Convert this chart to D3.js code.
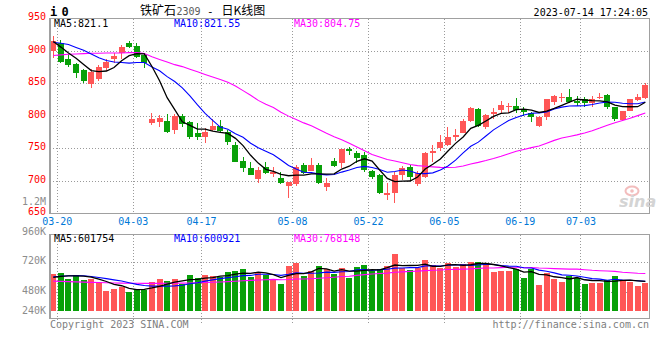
<!DOCTYPE html>
<html><head><meta charset="utf-8">
<script src="https://cdn.jsdelivr.net/npm/d3@7"></script>
<style>
body{margin:0;background:#fff;}
svg{display:block;font-family:"DejaVu Sans Mono",monospace;}
</style></head><body>
<svg id="c" width="660" height="360"></svg>
<script>
// ---------- data ----------
const dates = ["03-20","03-21","03-22","03-23","03-24","03-27","03-28","03-29","03-30","03-31",
"04-03","04-04","04-06","04-07","04-10","04-11","04-12","04-13","04-14","04-17","04-18","04-19","04-20","04-21",
"04-24","04-25","04-26","04-27","04-28","05-04","05-05","05-08","05-09","05-10","05-11","05-12",
"05-15","05-16","05-17","05-18","05-19","05-22","05-23","05-24","05-25","05-26","05-29","05-30","05-31","06-01","06-02",
"06-05","06-06","06-07","06-08","06-09","06-12","06-13","06-14","06-15","06-16","06-19","06-20","06-21",
"06-26","06-27","06-28","06-29","06-30","07-03","07-04","07-05","07-06","07-07","07-10","07-11","07-12","07-13","07-14"];
const open  = [900,913,888,880,871,850,856.5,874.5,888,896.5,912,907.5,894,790,791,792.5,778.5,800,790.5,773.5,768,778.5,784.5,776,755.5,731,720.5,703,722,711,704.5,692.5,695.5,724.5,716,724.5,691.5,731,727,750,743.5,740,716,710,678.5,681,709,722,696,705.5,743.5,750.5,755.5,767,774.5,793,811,782.5,803,809,813.5,815.5,810.5,804,784.5,798,822,828.5,829.5,823.5,825.5,819.5,827,832,813.5,794,808,824.5,828];
const high  = [923,917,895,881,872,872,878.5,887,897,909,916,912,896.5,804,801.5,803,803,803,793,789.5,781,795,794,778.5,760.5,737.5,729.5,722,729.5,722,714,699,724.5,728,735,728,704,735,749,752.5,746.5,745,717,711,696.5,714.5,722.5,724.5,716,745,755.5,771,783.5,779.5,795,814.5,813,803,813,823.5,820.5,827,814.5,806.5,800,825.5,832.5,836,841.5,830.5,830,831,836,834,814.5,808,826.5,834,851];
const low   = [890,881,876,858,851,843,854,870,882,888,904,888.5,874.5,786,782.5,774.5,772.5,783.5,764,763,759,777,773.5,755.5,729,714.5,709,696.5,711,706.5,696,674.5,692.5,710.5,716,696,685,722,719.5,740,727,714.5,703,680,671,665.5,702,700.5,692,704,729.5,746.5,754,761.5,774.5,791,782.5,779.5,795,803,804,804,800,791,783.5,794,817,822,820,815,813.5,813.5,825.5,811.5,793,793,808,823.5,825.5];
const close = [915,883.5,878.5,865.5,854,868,875,883.5,892.5,906.5,906.5,891.5,881,795,797.5,776,800,787,768,768,776,784.5,777,760.5,730,720.5,709.5,717,713,714.5,697,699,722,712,724.5,697.5,697.5,723.5,749,746.5,735,717,705.5,681,682,710,720.5,706.5,712,743.5,746.5,760.5,768,771,793,812,784.5,801.5,805.5,817,815.5,809,806.5,798,798,825.5,831,830,822,820.5,819.5,826,829,813.5,795,808,825.5,829.5,848];
const ma5  = [914.5,906,897,889,879.3,869.9,868.2,869.2,874.6,885.1,892.8,896.1,895.6,876.1,854.3,828.2,809.9,791.1,785.7,779.8,779.8,776.7,774.7,773.2,765.6,754.5,739.5,727.5,718,714.9,710.2,708.1,709.1,708.9,710.9,711,710.7,711,718.4,722.8,730.3,734.2,730.6,717,704.1,699.1,699.8,700,706.2,718.5,725.8,733.8,746.1,757.9,767.8,780.9,785.7,792.4,799.3,804.1,804.8,809.7,810.7,809.2,805.4,807.4,811.8,816.5,821.3,825.8,824.6,823.6,823.4,821.7,816.6,814.3,814.2,814.3,821.1];
const ma10 = [913.5,912,910,905.5,901,895.5,889.5,885.5,883,882.2,881.4,882.2,882.4,875.4,869.7,860.5,853,843.4,830.9,817.1,804,793.3,782.9,779.5,772.7,767.2,758.1,751.1,745.6,740.3,732.4,723.8,718.3,713.5,712.9,710.6,709.4,710.1,713.7,716.9,720.7,722.5,720.8,717.7,713.5,714.7,717,715.3,711.6,711.3,712.5,716.8,723.1,732.1,743.2,753.4,759.8,769.3,778.6,786,792.9,797.7,801.6,804.3,804.8,806.1,810.8,813.6,815.3,815.6,816,817.7,820,821.5,821.2,819.5,818.9,818.9,821.55];
const ma30 = [893,894,895,895.5,896,896.5,896.5,897,897,897,897.5,897.5,896,891,887,883,879,876,872,868,864,860,856,852,846,839,832,824,818,813.2,805.9,799.8,794.5,789.4,785.1,779.4,773.5,768.2,763.4,758.1,752.3,746.5,740.7,736.9,733,730.8,728.2,725.5,723.6,722.8,721.8,721,720.7,721.1,723.2,726.2,728.7,731.5,734.6,738,742,745.7,748.5,751.3,753.8,758.1,762.5,766.1,768.5,771,773.8,777.4,781.5,785.9,789.7,793,796.5,800.6,804.75];
const volume = [749,775,642,729,627,648,573,411,445,480,391,445,425,593,648,607,648,547,729,674,729,708,682,795,810,850,682,795,729,627,547,911,978,715,810,911,850,749,864,674,897,931,810,850,911,1154,864,830,864,1032,931,864,978,897,951,992,992,978,795,816,816,844,674,844,526,775,648,587,708,674,547,573,573,627,708,627,593,506,573].map(v=>v*1000);
const vma5  = [680,700,710,710,704.4,684.2,643.8,597.6,540.8,511.4,460,434.4,437.2,466.8,500.4,543.6,584.2,608.6,635.8,641,665.4,677.4,704.4,717.6,744.8,769,763.8,786.4,773.2,736.6,676,721.8,758.4,755.6,792.2,865,852.8,807,836.8,809.6,806.8,823,835.2,832.4,879.8,931.2,917.8,921.8,924.6,948.8,904.2,904.2,933.8,940.4,924.2,936.4,962,962,941.6,914.6,879.4,849.8,789,798.8,740.8,732.6,693.4,676,648.8,678.4,632.8,617.8,615,598.8,605.6,621.6,625.6,612.2,601.8].map(v=>v*1000);
const vma10 = [695,705,715,720,715,700,680,655,630,607.9,572.1,539.1,517.4,503.8,505.9,501.8,509.3,522.9,551.3,570.7,604.5,630.8,656.5,676.7,692.9,717.2,720.6,745.4,745.4,740.7,722.5,742.8,772.4,764.4,764.4,770.5,787.3,782.7,796.2,800.9,835.9,837.9,821.1,834.6,844.7,869,870.4,878.5,878.5,914.3,917.7,911,927.8,932.5,936.5,920.3,933.1,947.9,941,919.4,907.9,905.9,875.5,870.2,827.7,806,771.6,732.5,723.8,709.6,682.7,655.6,645.5,623.8,642,627.2,621.7,613.6,600.9].map(v=>v*1000);
const vma30 = [605,600,595,590,585,580,576,572,568,565,563,561,560,560,560,561,562,564,567,571,576,582,588,595,603,612,620,628,634,639.8,633,637.6,648.8,648.3,654.4,663.2,672.4,683.7,697.6,704.1,721,737.2,750,758.6,767.3,785.6,792.8,802.2,806.7,818.6,825.4,830.6,840.4,843.8,848.5,853.3,863.6,869.7,871.9,878.2,887.2,884.9,874.8,879.1,869.6,865.1,858.4,853,847.8,847.8,836.1,824.2,816.3,808.8,802.1,784.5,775.5,764.7,760].map(v=>v*1000);

const priceTicks = [950,900,850,800,750,700,650];
const volTicks = [1200000,960000,720000,480000,240000];
const volTickLabels = ["1.2M","960K","720K","480K","240K"];
const dateTicks = ["03-20","04-03","04-17","05-08","05-22","06-05","06-19","07-03"];
const priceLegend = ["MA5:821.1","MA10:821.55","MA30:804.75"];
const volLegend = ["MA5:601754","MA10:600921","MA30:768148"];

// ---------- layout ----------
const svg = d3.select("#c");
const L = 50, Rt = 649.6;
const RED = "#ff5656", GREEN = "#08a008", GRID = "#9a9a9a", BORDER = "#a0a0a0";
const x = d3.scaleBand().domain(d3.range(dates.length)).range([L, Rt]).padding(0);
const bw = 6, cx = i => x(i) + 3.3;
const yP = d3.scaleLinear().domain([650, 950]).range([213.5, 18.5]);
const yV = d3.scaleLinear().domain([0, 1600000]).range([311, 232]);
const yVL = d3.scaleLinear().domain([480000, 960000]).range([292, 233]);
const vTop = 234.5, vBot = 318.5;

svg.append("rect").attr("width",660).attr("height",360).attr("fill","#fff");
const defs = svg.append("defs");
defs.append("clipPath").attr("id","cp").append("rect").attr("x",L).attr("y",yP(950)).attr("width",Rt-L).attr("height",yP(650)-yP(950));
defs.append("clipPath").attr("id","cv").append("rect").attr("x",L).attr("y",vTop).attr("width",Rt-L).attr("height",vBot-vTop);

// grid
const g = svg.append("g").attr("shape-rendering","crispEdges");
priceTicks.slice(1,-1).forEach(v=>{
  g.append("line").attr("x1",L).attr("x2",Rt).attr("y1",yP(v)).attr("y2",yP(v))
   .attr("stroke",GRID).attr("stroke-dasharray","1,2");
});
const tickX = d => x(dates.indexOf(d)) + x.step() - 0.3;
dateTicks.forEach(d=>{
  g.append("line").attr("x1",tickX(d)).attr("x2",tickX(d)).attr("y1",yP(950)).attr("y2",yP(650))
   .attr("stroke",GRID).attr("stroke-dasharray","1,2");
  g.append("line").attr("x1",tickX(d)).attr("x2",tickX(d)).attr("y1",vTop).attr("y2",vBot+5)
   .attr("stroke",GRID).attr("stroke-dasharray","1,2");
});
[720000,480000].forEach(v=>{
  g.append("line").attr("x1",L).attr("x2",Rt).attr("y1",yVL(v)).attr("y2",yVL(v))
   .attr("stroke",GRID).attr("stroke-dasharray","1,2");
});

// candles
const cg = svg.append("g").attr("clip-path","url(#cp)").attr("shape-rendering","crispEdges");
d3.range(dates.length).forEach(i=>{
  const up = close[i] >= open[i];
  const col = up ? RED : GREEN;
  const wx = Math.floor(cx(i)) + 0.5;
  cg.append("line").attr("x1",wx).attr("x2",wx).attr("y1",yP(high[i])).attr("y2",yP(low[i])).attr("stroke",col);
  const t = yP(Math.max(open[i],close[i])), b = yP(Math.min(open[i],close[i]));
  cg.append("rect").attr("x",x(i)+0.3).attr("width",bw).attr("y",t).attr("height",Math.max(1,b-t)).attr("fill",col);
});

// MA lines - price
const lp = (arr, yS) => d3.line().x((d,i)=>cx(i)).y(d=>yS(d))(arr);
const lg = svg.append("g").attr("clip-path","url(#cp)").attr("fill","none");
lg.append("path").attr("d",lp(ma30,yP)).attr("stroke","#ff00ff").attr("stroke-width",1.1);
lg.append("path").attr("d",lp(ma10,yP)).attr("stroke","#0000ff").attr("stroke-width",1.1);
lg.append("path").attr("d",lp(ma5,yP)).attr("stroke","#000").attr("stroke-width",1.3);

// volume bars
const vg = svg.append("g").attr("clip-path","url(#cv)").attr("shape-rendering","crispEdges");
volume.forEach((v,i)=>{
  const up = close[i] >= open[i];
  vg.append("rect").attr("x",x(i)+0.3).attr("width",bw).attr("y",yV(v)).attr("height",yV(0)-yV(v))
    .attr("fill", up?RED:GREEN);
});
const vl = svg.append("g").attr("clip-path","url(#cv)").attr("fill","none");
vl.append("path").attr("d",lp(vma30,yV)).attr("stroke","#ff00ff").attr("stroke-width",1.1);
vl.append("path").attr("d",lp(vma10,yV)).attr("stroke","#0000ff").attr("stroke-width",1.1);
vl.append("path").attr("d",lp(vma5,yV)).attr("stroke","#000").attr("stroke-width",1.3);

// borders
const bg = svg.append("g").attr("fill","none").attr("stroke",BORDER).attr("shape-rendering","crispEdges");
bg.append("rect").attr("x",L).attr("y",yP(950)).attr("width",Rt-L).attr("height",yP(650)-yP(950)).attr("stroke-width",1.5);
bg.append("rect").attr("x",L).attr("y",vTop).attr("width",Rt-L).attr("height",vBot-vTop).attr("stroke-width",1.5);

// text
const T = svg.append("g").attr("font-size",10);
priceTicks.forEach(v=>{
  T.append("text").attr("x",46).attr("y",yP(v)-2).attr("dy","0.35em").attr("text-anchor","end").attr("fill","#f00").text(v);
});
volTicks.forEach((v,k)=>{
  T.append("text").attr("x",46).attr("y",Math.min(yVL(v),312)-2).attr("dy","0.35em").attr("text-anchor","end")
   .attr("fill","#8c8c8c").text(volTickLabels[k]);
});
dateTicks.forEach(d=>{
  T.append("text").attr("x",tickX(d)).attr("y",224.5).attr("text-anchor","middle").attr("fill","#0078d7").text(d);
});
const legCols = ["#000","#0000ff","#ff00ff"], legX = [54,174,294];
priceLegend.forEach((s,k)=>T.append("text").attr("x",legX[k]).attr("y",27).attr("fill",legCols[k]).text(s));
volLegend.forEach((s,k)=>T.append("text").attr("x",legX[k]).attr("y",242).attr("fill",legCols[k]).text(s));
T.append("text").attr("x",50).attr("y",327.5).attr("fill","#808080").text("Copyright 2023 SINA.COM");
T.append("text").attr("x",649).attr("y",327.5).attr("text-anchor","end").attr("fill","#808080").text("http://finance.sina.com.cn");
T.append("text").attr("x",648).attr("y",15.5).attr("text-anchor","end").attr("fill","#000").text("2023-07-14 17:24:05");

// title
svg.append("text").attr("x",50).attr("y",15.5).attr("font-size",12).attr("font-weight","bold").attr("fill","#000").text("i");
svg.append("text").attr("x",61.5).attr("y",15.5).attr("font-size",12).attr("font-weight","bold").attr("fill","#000").text("0");
const cjk = "'Noto Sans CJK SC',sans-serif";
svg.append("text").attr("x",140).attr("y",14.5).attr("font-size",12).attr("font-family",cjk).attr("fill","#000").text("铁矿石");
svg.append("text").attr("x",176.5).attr("y",14.5).attr("font-size",10).attr("fill","#5a5a5a").text("2309");
svg.append("text").attr("x",207).attr("y",14.5).attr("font-size",11).attr("fill","#000").text("-");
svg.append("text").attr("x",221.5).attr("y",14.5).attr("font-size",12).attr("font-family",cjk).attr("fill","#000").text("日K线图");

// watermark
const wm = svg.append("g").attr("opacity",0.9);
wm.append("ellipse").attr("cx",632).attr("cy",191).attr("rx",6.5).attr("ry",4.5).attr("fill","none").attr("stroke","#f2b6b6").attr("stroke-width",2);
wm.append("circle").attr("cx",632).attr("cy",191).attr("r",1.8).attr("fill","#f2b6b6");
wm.append("text").attr("x",619).attr("y",207).attr("font-family","'DejaVu Sans',sans-serif").attr("font-size",16)
  .attr("font-weight","bold").attr("font-style","italic").attr("fill","#d0d0d0").text("sina");
</script>
</body></html>
